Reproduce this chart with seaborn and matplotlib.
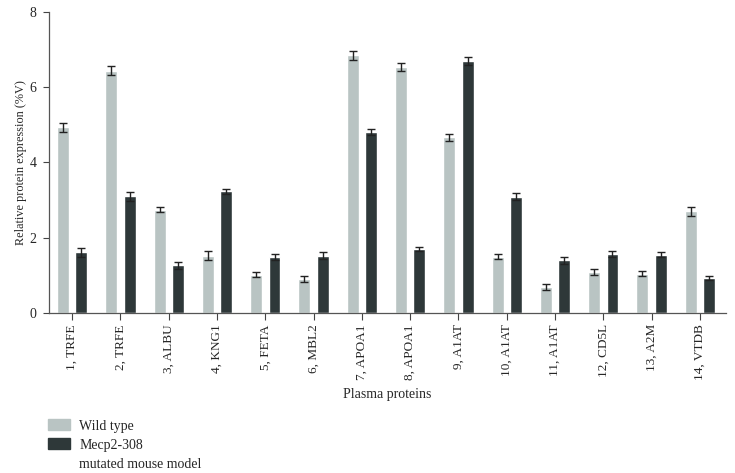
import matplotlib
matplotlib.use("Agg")
import matplotlib.pyplot as plt
import matplotlib.patches as mpatches
import seaborn as sns
import pandas as pd
import numpy as np

proteins = ["1, TRFE", "2, TRFE", "3, ALBU", "4, KNG1", "5, FETA", "6, MBL2", "7, APOA1",
            "8, APOA1", "9, A1AT", "10, A1AT", "11, A1AT", "12, CD5L", "13, A2M", "14, VTDB"]
wild_type = [4.93, 6.43, 2.75, 1.53, 1.02, 0.90, 6.85, 6.53, 4.67, 1.50, 0.70, 1.09, 1.05, 2.70]
wild_err = [0.12, 0.12, 0.06, 0.11, 0.07, 0.08, 0.12, 0.10, 0.09, 0.07, 0.08, 0.09, 0.06, 0.11]
mutant = [1.62, 3.10, 1.27, 3.23, 1.49, 1.53, 4.80, 1.71, 6.69, 3.09, 1.40, 1.58, 1.55, 0.93]
mutant_err = [0.12, 0.12, 0.09, 0.07, 0.08, 0.10, 0.08, 0.05, 0.11, 0.09, 0.09, 0.08, 0.07, 0.06]
groups = ["Wild type", "Mecp2-308"]
legend_extra = "mutated mouse model"
colors = ["#b9c4c3", "#2e3839"]

sns.set_theme(style="white")
plt.rcParams["font.family"] = ["Liberation Serif", "DejaVu Serif"]

df = pd.DataFrame({
    "protein": proteins * 2,
    "value": wild_type + mutant,
    "err": wild_err + mutant_err,
    "group": [groups[0]] * len(proteins) + [groups[1]] * len(proteins),
})

fig = plt.figure(figsize=(7.35, 4.73), dpi=100)
ax = fig.add_axes([0.0667, 0.338, 0.921, 0.637])

sns.barplot(data=df, x="protein", y="value", hue="group", order=proteins,
            hue_order=groups, palette=colors, width=0.76, gap=0.35,
            errorbar=None, legend=False, ax=ax, saturation=1)

# error bars at the bar centres
for container, g in zip(ax.containers, groups):
    sub = df[df["group"] == g]
    xs = [p.get_x() + p.get_width() / 2 for p in container.patches]
    ax.errorbar(xs, sub["value"].values, yerr=sub["err"].values, fmt="none",
                ecolor="#222222", elinewidth=1.0, capsize=3, capthick=1.0)

ax.set_ylim(0, 8)
ax.set_yticks([0, 2, 4, 6, 8])
ax.set_xlim(-0.48, 13.54)
ax.set_xlabel("Plasma proteins", fontsize=10, labelpad=6)
ax.set_ylabel("Relative protein expression (%V)", fontsize=8.8, labelpad=2)
ax.tick_params(axis="x", rotation=90, labelsize=9.5, length=5, width=0.8,
               color="#444444", bottom=True, pad=3)
ax.tick_params(axis="y", labelsize=10, length=4, width=0.8, color="#444444",
               left=True, pad=5)
sns.despine(ax=ax)
for s in ["left", "bottom"]:
    ax.spines[s].set_color("#555555")
    ax.spines[s].set_linewidth(0.9)

handles = [mpatches.Patch(color=c, label=g) for c, g in zip(colors, groups)]
handles.append(mpatches.Patch(color="none", label=legend_extra))
fig.legend(handles=handles, loc="upper left", bbox_to_anchor=(0.058, 0.125),
           frameon=False, fontsize=10, handlelength=1.6, handleheight=0.8,
           handletextpad=0.65, labelspacing=0.42, borderaxespad=0)

fig.savefig("out.png", dpi=100)
